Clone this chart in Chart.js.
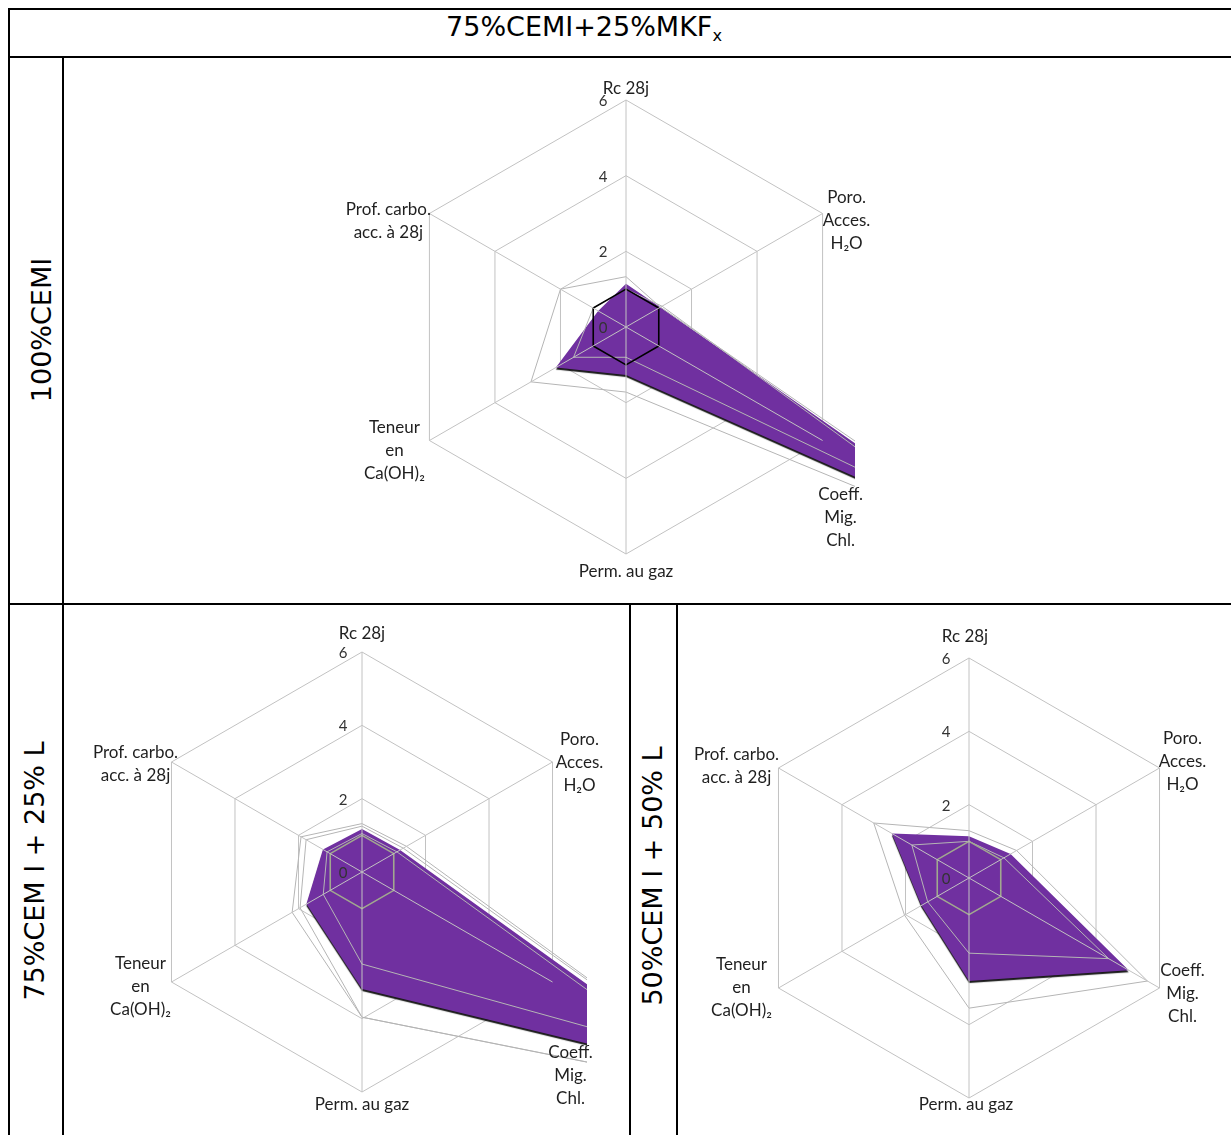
<!DOCTYPE html>
<html>
<head>
<meta charset="utf-8">
<title>75%CEMI+25%MKFx</title>
<script src="https://cdn.jsdelivr.net/npm/chart.js@4/dist/chart.umd.min.js"></script>
<style>
  html, body { margin: 0; padding: 0; background: #fff; }
  body { position: relative; width: 1231px; height: 1135px; overflow: hidden; font-family: "DejaVu Sans", Verdana, sans-serif; }
  canvas { position: absolute; z-index: 1; }
  .rule { position: absolute; background: #000; z-index: 2; }
  .cap { position: absolute; font-size: 27px; white-space: nowrap; color: #000; z-index: 2; }
  .vert { transform: translate(-50%, -50%) rotate(-90deg); }
  sub { font-size: 60%; vertical-align: -0.3em; }
</style>
</head>
<body>

<canvas id="c1" width="540" height="545" style="left:340px;top:58px"></canvas>
<canvas id="c2" width="566" height="530" style="left:64px;top:605px"></canvas>
<canvas id="c3" width="553" height="530" style="left:678px;top:605px"></canvas>

<!-- table rules -->
<div class="rule" style="left:8px;top:8px;width:1223px;height:2px"></div>
<div class="rule" style="left:8px;top:56px;width:1223px;height:2px"></div>
<div class="rule" style="left:8px;top:603px;width:1223px;height:2px"></div>
<div class="rule" style="left:8px;top:8px;width:2px;height:1127px"></div>
<div class="rule" style="left:62px;top:56px;width:2px;height:1079px"></div>
<div class="rule" style="left:629px;top:603px;width:2px;height:532px"></div>
<div class="rule" style="left:676px;top:603px;width:2px;height:532px"></div>

<div class="cap" style="left:584px;top:28px;transform:translate(-50%,-50%)">75%CEMI+25%MKF<sub>x</sub></div>
<div class="cap vert" style="left:41px;top:330px">100%CEMI</div>
<div class="cap vert" style="left:34px;top:871px">75%CEM I + 25% L</div>
<div class="cap vert" style="left:652px;top:876px">50%CEM I + 50% L</div>

<script>
const categories = ['Rc 28j', ['Poro.', 'Acces.', 'H₂O'], ['Coeff.', 'Mig.', 'Chl.'], 'Perm. au gaz', ['Teneur', 'en', 'Ca(OH)₂'], ['Prof. carbo.', 'acc. à 28j']];
const tickValues = [0, 2, 4, 6];
const reference = [1, 1, 1, 1, 1, 1];

// 100%CEMI
const cemiMix = [1.14, 1.05, 11, 1.27, 2.14, 0.85];
const cemiOther1 = [1.33, 1.05, 12, 1.72, 2.9, 2.0];
const cemiOther2 = [1.0, 1.1, 9.5, 0.8, 1.6, 1.0];

// 75%CEM I + 25% L
const l25Mix = [1.17, 1.2, 11, 3.19, 1.75, 1.23];
const l25Other1 = [1.32, 1.4, 12.1, 3.96, 2.2, 1.92];
const l25Other2 = [1.25, 1.3, 12.1, 3.96, 1.95, 1.76];
const l25Other3 = [1.05, 1.1, 9.7, 2.51, 1.22, 1.1];

// 50%CEM I + 50% L
const l50Mix = [1.14, 1.31, 5.03, 2.81, 1.5, 2.43];
const l50Other1 = [1.29, 1.5, 5.62, 3.55, 2.03, 3.0];
const l50Other2 = [1.0, 1.1, 4.4, 2.05, 1.3, 1.8];

const GRID = '#c2c2c2';

// radial lines on top of the fill, tick labels left of the axis, and the axis names
const overlay = {
  id: 'overlay',
  beforeDatasetsDraw(chart) {
    const ctx = chart.ctx;
    ctx.save();
    ctx.shadowColor = 'rgba(0,0,0,0.9)';
    ctx.shadowOffsetY = 2;
    ctx.shadowBlur = 1;
  },
  afterDatasetDraw(chart, args) {
    if (chart.data.datasets[args.index].fill) chart.ctx.restore();
  },
  afterDatasetsDraw(chart, args, opts) {
    const s = chart.scales.r;
    const ctx = chart.ctx;
    ctx.save();
    ctx.strokeStyle = GRID;
    ctx.lineWidth = 1;
    chart.data.labels.forEach((lab, i) => {
      const p = s.getPointPosition(i, s.drawingArea);
      ctx.beginPath();
      ctx.moveTo(s.xCenter, s.yCenter);
      ctx.lineTo(p.x, p.y);
      ctx.stroke();
    });

    ctx.textAlign = 'center';
    ctx.textBaseline = 'middle';
    ctx.fillStyle = '#333333';
    ctx.font = '15px Lato, sans-serif';
    s.ticks.forEach(t => {
      const d = s.getDistanceFromCenterForValue(t.value);
      ctx.fillText(t.label, s.xCenter + opts.tickDx, s.yCenter - d + 1);
    });

    ctx.fillStyle = '#1f1f1f';
    ctx.font = '17px Lato, sans-serif';
    chart.data.labels.forEach((lab, i) => {
      const p = s.getPointPosition(i, s.drawingArea);
      const [dx, dy] = opts.labelOffsets[i];
      const lines = [].concat(lab);
      lines.forEach((ln, k) => {
        ctx.fillText(ln, p.x + dx, p.y + dy + (k - (lines.length - 1) / 2) * 23);
      });
    });
    ctx.restore();
  }
};

function radar(id, mix, others, refColor, refWidth, pad, labelOffsets, tickDx) {
  const datasets = [
    { data: reference, borderColor: refColor, borderWidth: refWidth, fill: false, order: 0 },
    ...others.map(d => ({ data: d, borderColor: '#b5b5b5', borderWidth: 1, fill: false, order: 1 })),
    { data: mix, backgroundColor: '#7030a0', borderColor: '#7030a0', borderWidth: 0, fill: true, order: 2 }
  ];
  datasets.forEach(d => { d.pointRadius = 0; d.clip = 0; });
  new Chart(document.getElementById(id), {
    type: 'radar',
    data: { labels: categories, datasets },
    options: {
      responsive: false,
      animation: false,
      layout: { padding: pad },
      plugins: {
        legend: { display: false },
        tooltip: { enabled: false },
        overlay: { labelOffsets, tickDx }
      },
      scales: {
        r: {
          min: tickValues[0],
          max: tickValues[tickValues.length - 1],
          ticks: { stepSize: tickValues[1] - tickValues[0], display: false },
          pointLabels: { display: false },
          angleLines: { display: false },
          grid: { color: GRID, lineWidth: 1 }
        }
      }
    },
    plugins: [overlay]
  });
}

radar('c1', cemiMix, [cemiOther1, cemiOther2], '#000000', 1.6,
  { left: 57, right: 25, top: 42, bottom: 49 },
  [[0, -11], [24, 7], [18, 77], [0, 18], [-35, 10], [-41, 8]], -23);

radar('c2', l25Mix, [l25Other1, l25Other2, l25Other3], '#a1a88f', 1.6,
  { left: 73, right: 43, top: 47, bottom: 43 },
  [[0, -18], [27, 1], [18, 94], [0, 13], [-31, 5], [-36, 2]], -19);

radar('c3', l50Mix, [l50Other1, l50Other2], '#a1a88f', 1.6,
  { left: 66, right: 37, top: 53, bottom: 37 },
  [[-4, -21], [23, -6], [23, 6], [-3, 7], [-37, 0], [-42, -2]], -23);
</script>
</body>
</html>
